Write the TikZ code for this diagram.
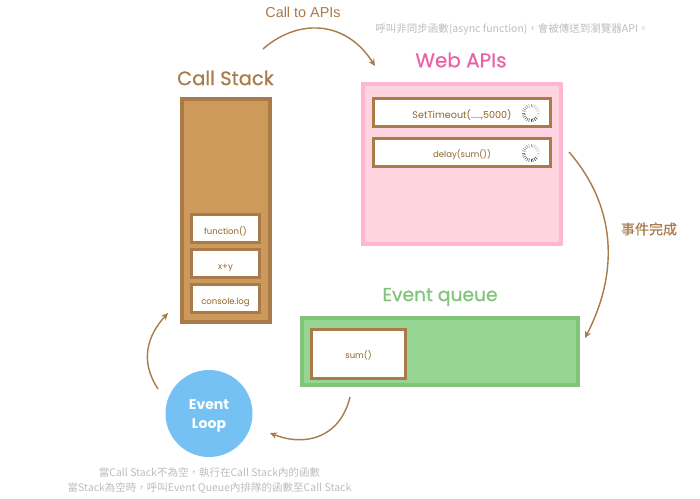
\documentclass[tikz,border=0pt]{standalone}
\usepackage{fontspec}
\setmainfont{Poppins}
\newfontfamily\cjkf{Noto Sans CJK TC}
\newfontfamily\cjkb[FakeBold=0.5]{Noto Sans CJK TC}
\newfontfamily\titlef[FakeBold=0.5]{Poppins}
\newfontfamily\helv{Liberation Sans}
\usetikzlibrary{arrows.meta}
\definecolor{brn}{HTML}{A87B48}
\definecolor{brnfill}{HTML}{CD9A5C}
\definecolor{brntxt}{HTML}{8F6328}
\definecolor{pinkb}{HTML}{FFB6D3}
\definecolor{pinkf}{HTML}{FFD4E1}
\definecolor{pinkt}{HTML}{EA62A8}
\definecolor{grnb}{HTML}{80C577}
\definecolor{grnf}{HTML}{97D592}
\definecolor{bluec}{HTML}{75C1F3}
\definecolor{greyt}{HTML}{BDBDBD}
\tikzset{
  x=1pt,y=-1pt,
  panel/.style={draw,line width=4pt,inner sep=0pt,rectangle,anchor=north west},
  slot/.style={draw=brn,fill=white,line width=3pt,rectangle,inner sep=0pt,text=brntxt,font=\fontsize{8.5}{9}\selectfont},
  title/.style={inner sep=0pt},
  note/.style={text=greyt,inner sep=0pt,font=\cjkf\fontsize{10.5}{15}\selectfont,align=center},
  flow/.style={draw=brn,line width=1.4pt,-{Stealth[length=7pt,width=6.5pt]}},
}
\newcommand{\spinner}[2]{%
  \foreach \a in {0,15,...,345}{%
    \pgfmathsetmacro{\sh}{mod(\a+30,360)/345*70+10}
    \draw[black!\sh,line width=0.6pt] ([shift={(-\a:5.8)}]#1,#2) -- ([shift={(-\a:9)}]#1,#2);
  }%
}
\newcommand{\low}[2][5.6pt]{\raisebox{-#1}[0pt][0pt]{#2}}
\begin{document}
\begin{tikzpicture}
\useasboundingbox (0,0) rectangle (700,498);
\fill[white] (0,0) rectangle (700,498);

% call stack
\node[panel,draw=brn,fill=brnfill,minimum width=88pt,minimum height=223pt] (cs) at (180,97) {};
\node[title,text=brn,font=\titlef\fontsize{19.5}{20}\selectfont] (cst) at (225.5,78) {Call Stack};
\node[slot,minimum width=68pt,minimum height=28pt] (f1) at (225.5,228.5) {\low{function()}};
\node[slot,minimum width=68pt,minimum height=28pt] (f2) at (225.5,263.5) {\low{x+y}};
\node[slot,minimum width=68pt,minimum height=28pt] (f3) at (225.5,298.5) {\low{console.log}};

% web apis
\node[panel,draw=pinkb,fill=pinkf,minimum width=198pt,minimum height=160pt] (wa) at (361,82) {};
\node[title,text=pinkt,font=\titlef\fontsize{20}{20}\selectfont] (wat) at (461,60) {Web APIs};
\node[slot,minimum width=177pt,minimum height=28pt,font=\fontsize{9.6}{9.6}\selectfont] (w1) at (462,112.5) {\low{SetTimeout(.....,5000)}};
\node[slot,minimum width=177pt,minimum height=28pt] (w2) at (462,152) {\low{delay(sum())}};
\spinner{531}{113}
\spinner{531}{153}

% event queue
\node[panel,draw=grnb,fill=grnf,minimum width=276pt,minimum height=67pt] (eq) at (300,316) {};
\node[title,text=grnb,font=\titlef\fontsize{18.7}{20}\selectfont] (eqt) at (440,297) {Event queue};
\node[slot,minimum width=94pt,minimum height=49pt] (q1) at (358.5,354) {\low[4pt]{sum()}};

% event loop
\node[circle,fill=bluec,minimum size=87pt,inner sep=0pt,text=white,align=center,font=\fontsize{14}{19}\selectfont\bfseries] (el) at (209,413.5) {\low[5.5pt]{Event}\\\low[5.5pt]{Loop}};

% labels
\node[text=brn,inner sep=0pt,font=\helv\fontsize{14.4}{14.4}\selectfont] (l1) at (303,12) {Call to APIs};
\node[text=brn,inner sep=0pt,font=\cjkb\fontsize{14}{14}\selectfont] (l2) at (649,229) {事件完成};
\node[note] (n1) at (512,29) {呼叫非同步函數(async function)，會被傳送到瀏覽器API。};
\node[note] (n2) at (209.5,480.5) {當Call Stack不為空，執行在Call Stack內的函數\\當Stack為空時，呼叫Event Queue內排隊的函數至Call Stack};

% connectors
\coordinate (a1s) at (263,49);
\coordinate (a1e) at (375,66);
\coordinate (a2s) at (569,152);
\coordinate (a2e) at (585,338);
\coordinate (a3s) at (350,397);
\coordinate (a3e) at (270,433);
\coordinate (a4s) at (158,389);
\coordinate (a4e) at (168,313);
\draw[flow] (a1s) .. controls (297,19) and (345,19) .. (a1e);
\draw[flow] (a2s) .. controls (615,205) and (620,270) .. (a2e);
\draw[flow] (a3s) .. controls (340,438) and (305,447) .. (a3e);
\draw[flow] (a4s) .. controls (139,360) and (148,335) .. (a4e);
\end{tikzpicture}
\end{document}
